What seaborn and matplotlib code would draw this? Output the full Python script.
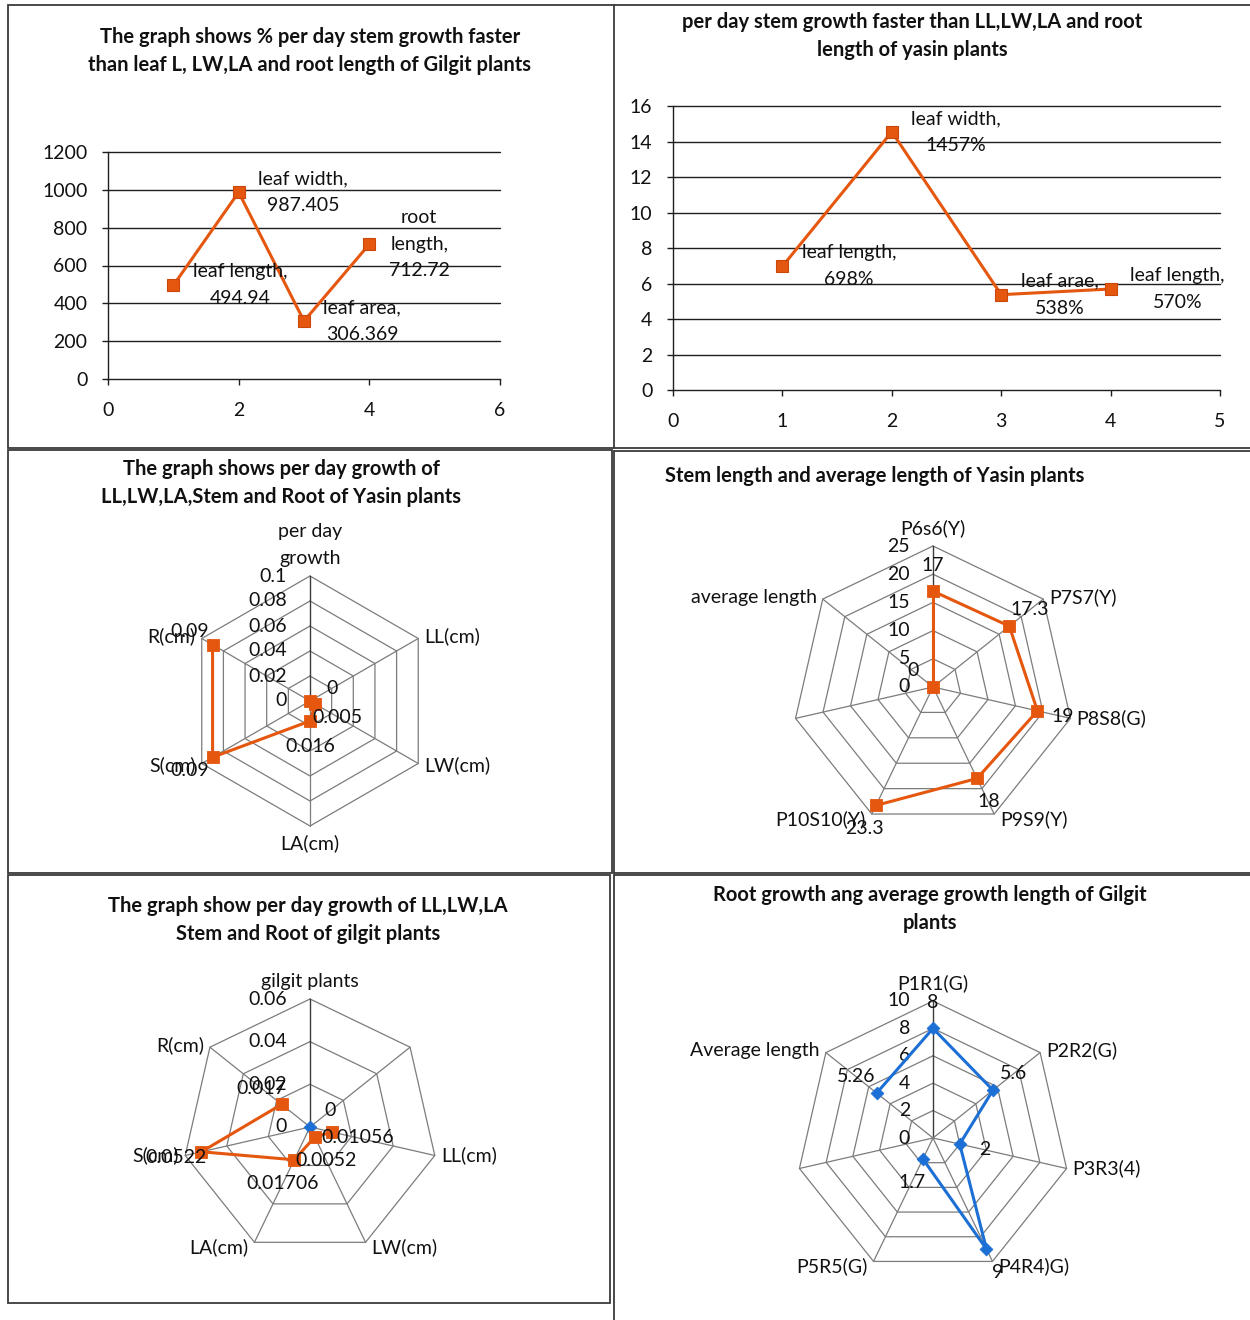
import numpy as np
import pandas as pd
import matplotlib
matplotlib.use("Agg")
import matplotlib.pyplot as plt
from matplotlib.patches import Rectangle
import seaborn as sns

# ---------------- data ----------------
# % per day stem growth faster than leaf / root traits, Gilgit plants
gilgit_pos = [1, 2, 3, 4]
gilgit_pct = [494.94, 987.405, 306.369, 712.72]
gilgit_names = ["leaf length", "leaf width", "leaf area", "root\nlength"]

# per day stem growth faster than LL, LW, LA and root, Yasin plants
yasin_pos = [1, 2, 3, 4]
yasin_pct = [6.98, 14.57, 5.38, 5.70]
yasin_names = ["leaf length", "leaf width", "leaf arae", "leaf length"]

# per day growth of Yasin plants (radar)
yasin_growth_axes = ["per day\ngrowth", "LL(cm)", "LW(cm)", "LA(cm)", "S(cm)", "R(cm)"]
yasin_growth = [np.nan, 0, 0.005, 0.016, 0.09, 0.09]

# stem length and average length of Yasin plants (radar)
yasin_stem_axes = ["P6s6(Y)", "P7S7(Y)", "P8S8(G)", "P9S9(Y)", "P10S10(Y)", "", "average length"]
yasin_stem = [17, 17.3, 19, 18, 23.3, np.nan, 0]

# per day growth of Gilgit plants (radar, two series)
gilgit_growth_axes = ["gilgit plants", "", "LL(cm)", "LW(cm)", "LA(cm)", "S(cm)", "R(cm)"]
gilgit_growth_ref = [np.nan, 0, np.nan, np.nan, np.nan, np.nan, np.nan]
gilgit_growth = [np.nan, np.nan, 0.01056, 0.0052, 0.01706, 0.0522, 0.017]

# root growth and average growth length of Gilgit plants (radar)
gilgit_root_axes = ["P1R1(G)", "P2R2(G)", "P3R3(4)", "P4R4)G)", "P5R5(G)", "", "Average length"]
gilgit_root = [8, 5.6, 2, 9, 1.7, np.nan, 5.26]

titles = [
    "The graph shows % per day stem growth faster\nthan leaf L, LW,LA and root length of Gilgit plants",
    "per day stem growth faster than LL,LW,LA and root\nlength of yasin plants",
    "The graph shows per day growth of\nLL,LW,LA,Stem and Root of Yasin plants",
    "Stem length and average length of Yasin plants",
    "The graph show per day growth of LL,LW,LA\nStem and Root of gilgit plants",
    "Root growth ang average growth length of Gilgit\nplants",
]

# ---------------- style ----------------
sns.set_theme(style="white")
plt.rcParams["font.family"] = ["Lato", "DejaVu Sans"]

ORANGE = "#E5570E"
ORANGE_EDGE = "#C9470A"
BLUE = "#1C6FD4"
TXT = "#111111"
GRIDK = "#1e1e1e"
RING = "#7c7c7c"
BOX = "#3a3a3a"
FS = 14
TFS = 14.5
PX = 72 / 100  # points per pixel

W, H = 1250, 1320
fig = plt.figure(figsize=(W / 100, H / 100), dpi=100)
fig.patch.set_facecolor("white")


def px_axes(left, top, width, height):
    return fig.add_axes([left / W, 1 - (top + height) / H, width / W, height / H])


def px_text(x, y, s, **kw):
    fig.text(x / W, 1 - y / H, s, **kw)


def px_line(x0, y0, x1, y1):
    fig.add_artist(plt.Line2D([x0 / W, x1 / W], [1 - y0 / H, 1 - y1 / H],
                              transform=fig.transFigure, color=BOX, lw=1.3))


def px_box(x0, y0, x1, y1):
    fig.add_artist(Rectangle((x0 / W, 1 - y1 / H), (x1 - x0) / W, (y1 - y0) / H,
                             transform=fig.transFigure, fill=False, ec=BOX, lw=1.3))


# panel frames
px_box(8, 5, 614, 448)
px_line(614, 4.5, 1250, 4.5)
px_line(614, 448, 1250, 448)
px_box(8, 450, 612, 873)
px_line(614, 451, 1250, 451)
px_line(614, 451, 614, 873)
px_line(614, 873, 1250, 873)
px_box(8, 875, 610, 1303)
px_line(614, 875, 1250, 875)
px_line(614, 875, 614, 1320)

# titles
title_pos = [(310, 51), (912, 36), (281, 483), (875, 476), (308, 920), (930, 909)]
for (tx, ty), t in zip(title_pos, titles):
    px_text(tx, ty, t, ha="center", va="center", fontsize=TFS, fontweight="bold",
            color=TXT, linespacing=1.55, multialignment="center")


# ---------------- line panels ----------------
def line_panel(ax, xs, ys, labels, xmax, xstep, ymax, ystep):
    sns.lineplot(x=xs, y=ys, ax=ax, color=ORANGE, lw=2.2, marker="s", markersize=8.5,
                 markeredgecolor=ORANGE_EDGE, markeredgewidth=0.8, legend=False,
                 zorder=5, clip_on=False)
    ax.set_xlim(0, xmax)
    ax.set_ylim(0, ymax)
    xt = np.arange(0, xmax + 1e-9, xstep)
    yt = np.arange(0, ymax + 1e-9, ystep)
    ax.set_xticks(xt)
    ax.set_xticklabels([f"{v:g}" for v in xt])
    ax.set_yticks(yt)
    ax.set_yticklabels([f"{v:g}" for v in yt])
    ax.grid(False)
    for v in yt[1:]:
        ax.axhline(v, color=GRIDK, lw=1.0, zorder=1, clip_on=False)
    for s in ["top", "right"]:
        ax.spines[s].set_visible(False)
    for s in ["left", "bottom"]:
        ax.spines[s].set_color(GRIDK)
        ax.spines[s].set_linewidth(1.0)
    ax.tick_params(axis="y", direction="out", length=6 * PX, width=1.0, color=GRIDK,
                   pad=10.5, labelsize=FS, labelcolor=TXT, left=True)
    ax.tick_params(axis="x", direction="out", length=6 * PX, width=1.0, color=GRIDK,
                   pad=12.5, labelsize=FS, labelcolor=TXT, bottom=True)
    ax.set_xlabel("")
    ax.set_ylabel("")
    ax.set_facecolor("none")
    for xv, yv, lab in zip(xs, ys, labels):
        ax.annotate(lab, (xv, yv), xytext=(14, 0), textcoords="offset points",
                    ha="left", va="center", multialignment="center", linespacing=1.7,
                    fontsize=FS, color=TXT, annotation_clip=False, zorder=6)


ax1 = px_axes(108, 152, 392, 227)
line_panel(ax1, gilgit_pos, gilgit_pct,
           [f"{n},\n{v:g}" for n, v in zip(gilgit_names, gilgit_pct)], 6, 2, 1200, 200)

ax2 = px_axes(673, 106.5, 547, 283.5)
line_panel(ax2, yasin_pos, yasin_pct,
           [f"{n},\n{v * 100:.0f}%" for n, v in zip(yasin_names, yasin_pct)], 5, 1, 16, 2)


# ---------------- radar panels ----------------
def runs_frame(values, vmax, ux, uy):
    """Cyclic polyline split at missing values into separate units."""
    r = np.asarray(values, float) / vmax
    n = len(r)
    rows, seg, prev = [], 0, False
    for k, i in enumerate(list(range(n)) + [0]):
        if np.isnan(r[i]):
            if prev:
                seg += 1
            prev = False
            continue
        rows.append(dict(x=r[i] * ux[i], y=r[i] * uy[i], seg=seg, order=k))
        prev = True
    return pd.DataFrame(rows)


def radar_panel(cx, cy, R, axis_labels, vmax, step, series):
    k = 1.05
    ax = px_axes(cx - R * k, cy - R * k, 2 * R * k, 2 * R * k)
    ax.set_xlim(-k, k)
    ax.set_ylim(-k, k)
    ax.set_axis_off()
    n = len(axis_labels)
    ang = np.arange(n) * 2 * np.pi / n
    ux, uy = np.sin(ang), np.cos(ang)
    levels = np.arange(0, vmax + step / 2, step)
    for lev in levels[1:]:
        r = lev / vmax
        ax.plot(np.append(ux, ux[0]) * r, np.append(uy, uy[0]) * r,
                color=RING, lw=0.9, zorder=1, clip_on=False)
    for i in range(n):
        ax.plot([0, ux[i]], [0, uy[i]], color="#3c3c3c" if i == 0 else RING,
                lw=1.0 if i == 0 else 0.9, zorder=1, clip_on=False)
    # value axis tick labels along the first spoke
    for lev in levels:
        ax.annotate(f"{lev:g}", (0, lev / vmax), xytext=(-23 * PX, 0),
                    textcoords="offset points", ha="right", va="center",
                    fontsize=FS, color=TXT, annotation_clip=False)
    # category labels at the outer vertices
    for i, lab in enumerate(axis_labels):
        if not lab:
            continue
        if abs(ux[i]) < 1e-6:
            up = uy[i] > 0
            ax.annotate(lab, (ux[i], uy[i]), xytext=(0, (9 if up else -8) * PX),
                        textcoords="offset points", ha="center",
                        va="bottom" if up else "top", multialignment="center",
                        linespacing=1.7, fontsize=FS, color=TXT, annotation_clip=False)
        else:
            dy = 2 if uy[i] > 0.3 else (-5 if uy[i] < -0.7 else (-2 if uy[i] < -0.3 else 0))
            ax.annotate(lab, (ux[i], uy[i]), xytext=((6 if ux[i] > 0 else -6) * PX, dy * PX),
                        textcoords="offset points", ha="left" if ux[i] > 0 else "right",
                        va="center", fontsize=FS, color=TXT, annotation_clip=False)
    # data series
    for values, color, marker, msize in series:
        df = runs_frame(values, vmax, ux, uy)
        if df.groupby("seg").size().max() > 1:
            sns.lineplot(data=df, x="x", y="y", units="seg", estimator=None, sort=False,
                         color=color, lw=2.2, ax=ax, legend=False, zorder=3)
        vals = np.asarray(values, float)
        ok = ~np.isnan(vals)
        pts = pd.DataFrame(dict(x=vals[ok] / vmax * ux[ok], y=vals[ok] / vmax * uy[ok]))
        sns.scatterplot(data=pts, x="x", y="y", marker=marker, s=msize, color=color,
                        edgecolor=color, linewidth=0.6, ax=ax, legend=False, zorder=4,
                        clip_on=False)
        for i in np.where(ok)[0]:
            ax.annotate(f"{vals[i]:g}", (vals[i] / vmax * ux[i], vals[i] / vmax * uy[i]),
                        xytext=(26 * PX * ux[i], 26 * PX * uy[i]), textcoords="offset points",
                        ha="center", va="center", fontsize=FS, color=TXT,
                        annotation_clip=False, zorder=5)
    ax.set_xlabel("")
    ax.set_ylabel("")
    ax.set_xlim(-k, k)
    ax.set_ylim(-k, k)
    return ax


radar_panel(310, 701, 125, yasin_growth_axes, 0.1, 0.02,
            [(yasin_growth, ORANGE, "s", 64)])
radar_panel(933, 687, 141, yasin_stem_axes, 25, 5,
            [(yasin_stem, ORANGE, "s", 64)])
radar_panel(310, 1127, 128, gilgit_growth_axes, 0.06, 0.02,
            [(gilgit_growth_ref, BLUE, "D", 42), (gilgit_growth, ORANGE, "s", 64)])
radar_panel(933, 1138, 137, gilgit_root_axes, 10, 2,
            [(gilgit_root, BLUE, "D", 42)])

fig.savefig("out.png", dpi=100, facecolor="white")
